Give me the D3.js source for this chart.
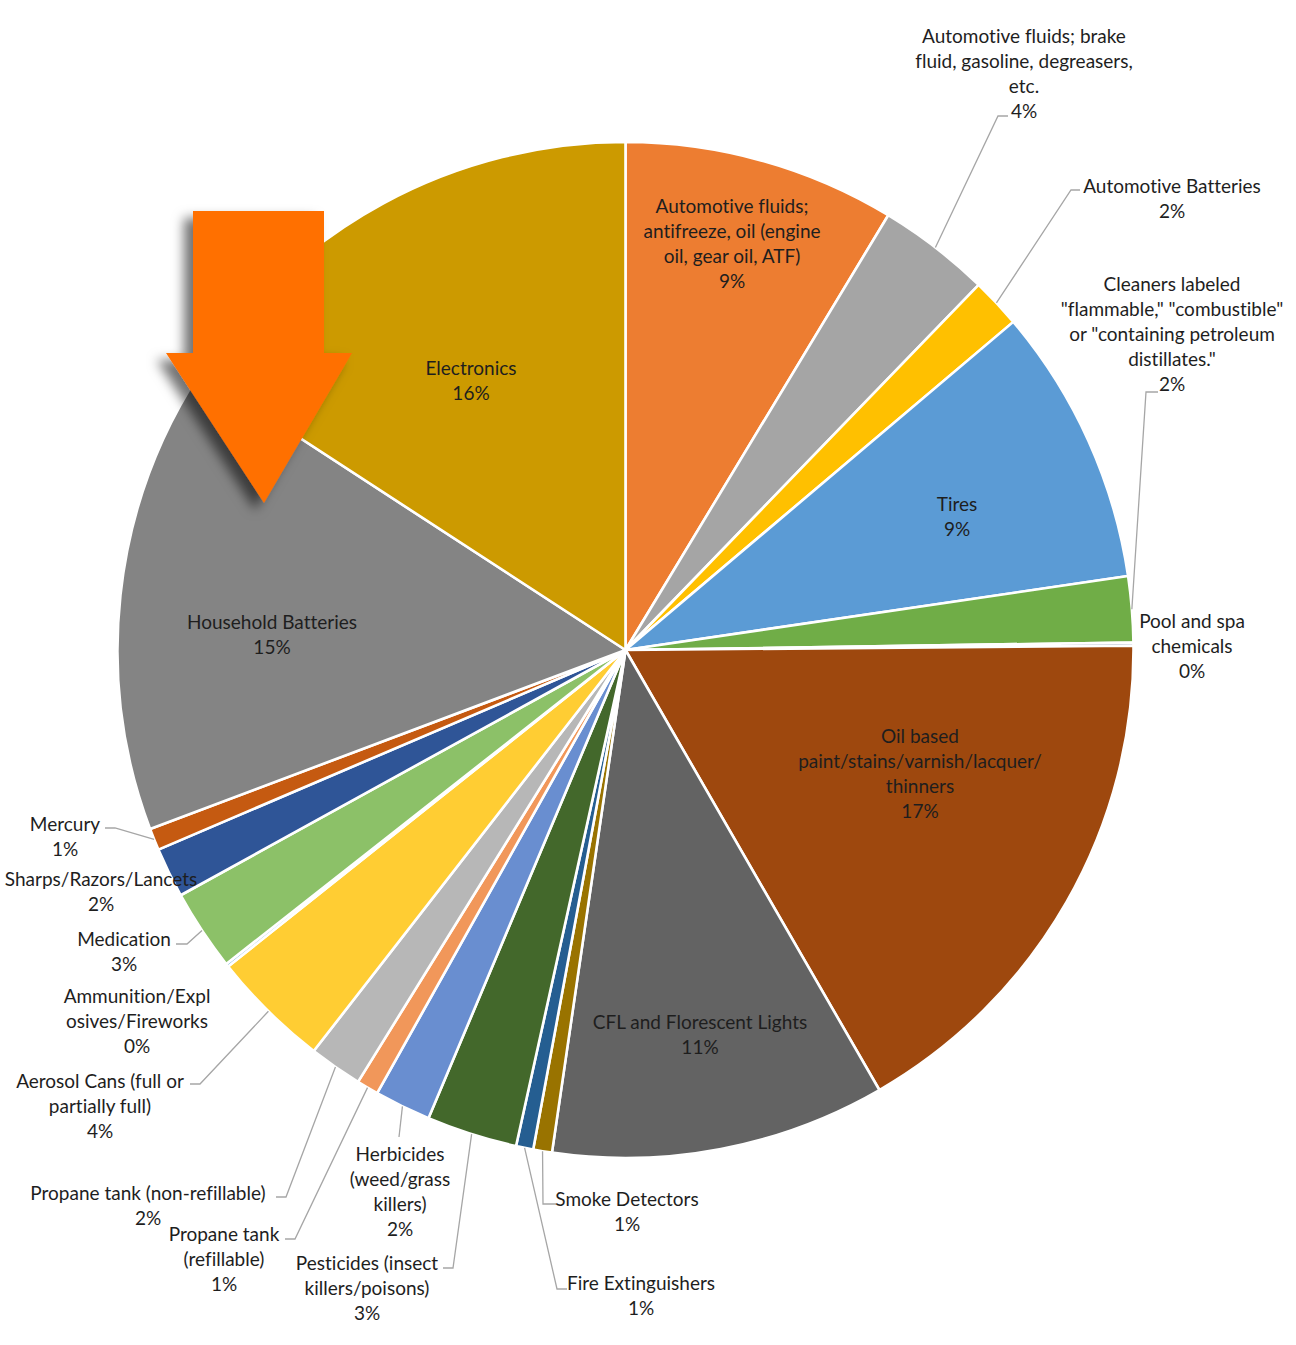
<!DOCTYPE html>
<html>
<head>
<meta charset="utf-8">
<script src="https://cdn.jsdelivr.net/npm/d3@7"></script>
<style>
  html, body { margin: 0; padding: 0; background: #fff; }
  svg { display: block; }
  text { font-family: Lato, "Open Sans", sans-serif; fill: #1e1e1e; font-variant-ligatures: none; }
</style>
</head>
<body>
<svg id="chart" width="1296" height="1345"></svg>
<script>
// ---------- DATA ----------
const categories = [
  "Automotive fluids; antifreeze, oil (engine oil, gear oil, ATF)",
  "Automotive fluids; brake fluid, gasoline, degreasers, etc.",
  "Automotive Batteries",
  "Tires",
  "Cleaners labeled \"flammable,\" \"combustible\" or \"containing petroleum distillates.\"",
  "Pool and spa chemicals",
  "Oil based paint/stains/varnish/lacquer/thinners",
  "CFL and Florescent Lights",
  "Smoke Detectors",
  "Fire Extinguishers",
  "Pesticides (insect killers/poisons)",
  "Herbicides (weed/grass killers)",
  "Propane tank (refillable)",
  "Propane tank (non-refillable)",
  "Aerosol Cans (full or partially full)",
  "Ammunition/Explosives/Fireworks",
  "Medication",
  "Sharps/Razors/Lancets",
  "Mercury",
  "Household Batteries",
  "Electronics"
];
const shares = [8.7, 3.6, 1.6, 8.9, 2.1, 0.1, 16.9, 10.7, 0.6, 0.55, 2.9, 1.8, 0.7, 1.7, 3.8, 0.1, 2.6, 1.6, 0.7, 15.0, 15.9];
const labelLines = [
  ["Automotive fluids;", "antifreeze, oil (engine", "oil, gear oil, ATF)"],
  ["Automotive fluids; brake", "fluid, gasoline, degreasers,", "etc."],
  ["Automotive Batteries"],
  ["Tires"],
  ["Cleaners labeled", "\"flammable,\" \"combustible\"", "or \"containing petroleum", "distillates.\""],
  ["Pool and spa", "chemicals"],
  ["Oil based", "paint/stains/varnish/lacquer/", "thinners"],
  ["CFL and Florescent Lights"],
  ["Smoke Detectors"],
  ["Fire Extinguishers"],
  ["Pesticides (insect", "killers/poisons)"],
  ["Herbicides", "(weed/grass", "killers)"],
  ["Propane tank", "(refillable)"],
  ["Propane tank (non-refillable)"],
  ["Aerosol Cans (full or", "partially full)"],
  ["Ammunition/Expl", "osives/Fireworks"],
  ["Medication"],
  ["Sharps/Razors/Lancets"],
  ["Mercury"],
  ["Household Batteries"],
  ["Electronics"]
];
const colors = [
  "#ED7D31", "#A5A5A5", "#FFC000", "#5B9BD5", "#70AD47", "#264478",
  "#9E480E", "#636363", "#997300", "#255E91", "#43682B", "#698ED0",
  "#F1975A", "#B7B7B7", "#FFCD33", "#7CAFDD", "#8CC168", "#2F5597",
  "#C55A11", "#848484", "#CC9A00"
];

// ---------- LAYOUT (label placement) ----------
// [centre x, centre y of first line]
const labelPos = [
  [732, 205], [1024, 35], [1172, 185], [957, 503], [1172, 283], [1192, 620],
  [920, 735], [700, 1021], [627, 1198], [641, 1282], [367, 1262], [400, 1153],
  [224, 1233], [148, 1192], [100, 1080], [137, 995], [124, 938], [101, 878],
  [65, 823], [272, 621], [471, 367]
];
// leader: [x start, y, x elbow] -> then to slice edge; null = none
const leaders = [
  null, [1008, 116, 998], [1080, 190, 1071], null, [1158, 392, 1146], null,
  null, null, [556, 1204, 543], [567, 1289, 557], [443, 1268, 453], [399, 1137, 399],
  [285, 1239, 295], [276, 1197, 286], [190, 1084, 200], null, [176, 944, 187], null,
  [105, 828, 115], null, null
];

const W = 1296, H = 1345;
const cx = 625.5, cy = 650, R = 508;
const lineH = 25;

const svg = d3.select("#chart");

// Arrow shadow filter
const defs = svg.append("defs");
const f = defs.append("filter").attr("id", "shadow")
  .attr("x", "-30%").attr("y", "-30%").attr("width", "160%").attr("height", "160%");
f.append("feDropShadow").attr("dx", -9).attr("dy", 7).attr("stdDeviation", 6)
  .attr("flood-color", "#000").attr("flood-opacity", 0.55);

const total = d3.sum(shares);
const pie = d3.pie().sort(null).value(d => d).startAngle(0).endAngle(2 * Math.PI);
const arcs = pie(shares);
const arc = d3.arc().innerRadius(0).outerRadius(R);

const g = svg.append("g").attr("transform", `translate(${cx},${cy})`);
g.selectAll("path.slice").data(arcs).enter().append("path")
  .attr("class", "slice")
  .attr("d", arc)
  .attr("fill", (d, i) => colors[i])
  .attr("stroke", "#fff")
  .attr("stroke-width", 2.6)
  .attr("stroke-linejoin", "round");

// Leader lines
arcs.forEach((d, i) => {
  const L = leaders[i];
  if (!L) return;
  const a = (d.startAngle + d.endAngle) / 2;
  const px = cx + R * Math.sin(a), py = cy - R * Math.cos(a);
  svg.append("polyline")
    .attr("points", `${L[0]},${L[1]} ${L[2]},${L[1]} ${px},${py}`)
    .attr("fill", "none")
    .attr("stroke", "#A6A6A6")
    .attr("stroke-width", 1.3);
});

// Labels
const fmt = v => Math.round(v / total * 100) + "%";
arcs.forEach((d, i) => {
  const lines = labelLines[i].concat([fmt(shares[i])]);
  const t = svg.append("text")
    .attr("text-anchor", "middle")
    .style("font-size", "19px");
  lines.forEach((s, k) => {
    t.append("tspan")
      .attr("x", labelPos[i][0])
      .attr("y", labelPos[i][1] + k * lineH)
      .attr("dominant-baseline", "central")
      .text(s);
  });
});

// Orange arrow annotation
svg.append("path")
  .attr("d", "M193,211 L324,211 L324,353 L352,353 L264,503 L166,353 L193,353 Z")
  .attr("fill", "#FF7000")
  .attr("filter", "url(#shadow)");
</script>
</body>
</html>
